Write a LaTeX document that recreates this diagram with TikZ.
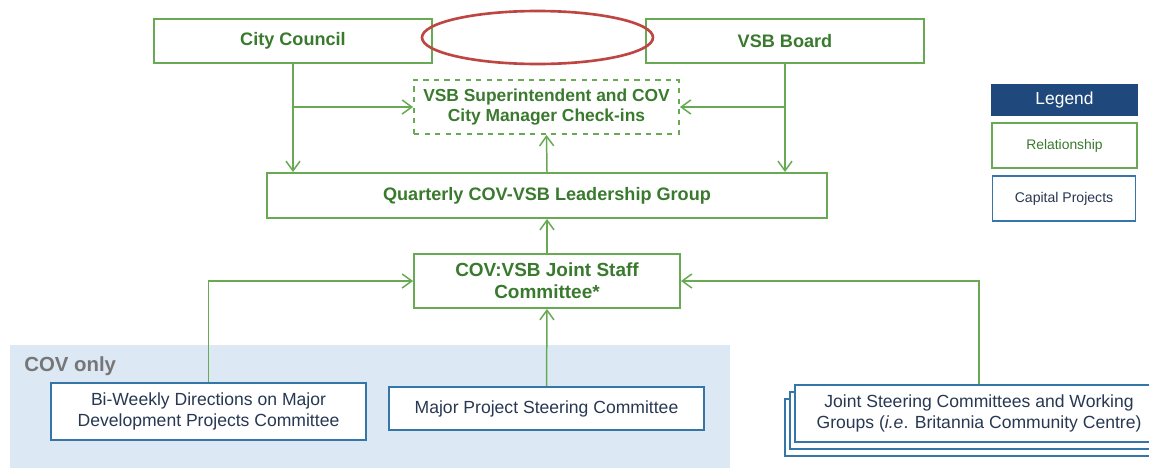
\documentclass[tikz,border=0pt]{standalone}
\usepackage{fontspec}
\setmainfont{Liberation Sans}
\usetikzlibrary{arrows.meta}

\definecolor{relgreen}{RGB}{104,170,84}
\definecolor{relgreentext}{RGB}{58,122,46}
\definecolor{capblue}{RGB}{52,118,168}
\definecolor{captext}{RGB}{40,56,82}
\definecolor{legendnavy}{RGB}{31,73,125}
\definecolor{covfill}{RGB}{221,232,245}
\definecolor{covgray}{RGB}{118,118,118}
\definecolor{markred}{RGB}{190,70,66}

\tikzset{
  relbox/.style={draw=relgreen, line width=1.1pt, fill=white, text=relgreentext,
    font=\fontsize{10.3}{11.8}\selectfont\bfseries, align=center, inner sep=0pt},
  capbox/.style={draw=capblue, line width=1.1pt, fill=white, text=captext,
    font=\fontsize{10}{11.8}\selectfont, align=center, inner sep=0pt},
  link/.style={draw=relgreen, line width=0.85pt},
  tip/.style={-{Straight Barb[length=5.5pt,width=8pt]}},
}

\begin{document}
\begin{tikzpicture}[x=0.02cm,y=-0.02cm]
  \useasboundingbox (0,0) rectangle (1149,467);
  \clip (0,0) rectangle (1149,467);

  % COV only area
  \fill[covfill] (10,345) rectangle (730,480);
  \node[text=covgray, font=\fontsize{11.6}{13}\selectfont\bfseries, anchor=west, inner sep=0pt] (covonly) at (24,366) {COV only};

  % top row
  \node[relbox, minimum width=5.56cm, minimum height=0.88cm] (council) at (293,41) {City Council};
  \node[relbox, minimum width=5.56cm, minimum height=0.88cm] (vsbboard) at (785,41) {VSB Board};
  \draw[markred, line width=1.5pt] (537.5,37.5) ellipse [x radius=115.5, y radius=26.5];

  \node[relbox, dashed, font=\fontsize{9.9}{11.6}\selectfont\bfseries, minimum width=5.3cm, minimum height=1.08cm] (checkin) at (546.5,107)
    {VSB Superintendent and COV\\City Manager Check-ins};
  \node[relbox, minimum width=11.2cm, minimum height=0.9cm] (leaders) at (547,195.5)
    {Quarterly COV-VSB Leadership Group};
  \node[relbox, font=\fontsize{10.8}{12.6}\selectfont\bfseries, minimum width=5.32cm, minimum height=1.08cm] (staff) at (547,281)
    {COV:VSB Joint Staff\\Committee*};

  % capital projects
  \node[capbox, minimum width=6.3cm, minimum height=1.14cm] (biweekly) at (208.5,411.5)
    {Bi-Weekly Directions on Major\\Development Projects Committee};
  \node[capbox, minimum width=6.3cm, minimum height=0.86cm] (steering) at (546.5,408.5)
    {Major Project Steering Committee};
  \node[capbox, minimum width=7.36cm, minimum height=1.14cm] (jointback) at (969,427.5) {};
  \node[capbox, minimum width=7.36cm, minimum height=1.14cm] (jointmid) at (974,420.5) {};
  \node[capbox, minimum width=7.36cm, minimum height=1.14cm] (joint) at (979,413.5)
    {Joint Steering Committees and Working\\Groups (\textit{i.e}. Britannia Community Centre)};

  % legend
  \node[fill=legendnavy, text=white, font=\fontsize{9.9}{11}\selectfont, minimum width=2.94cm, minimum height=0.64cm, inner sep=0pt] (legend) at (1064.5,100) {Legend};
  \node[relbox, font=\fontsize{7.9}{9}\selectfont, minimum width=2.9cm, minimum height=0.9cm] (legrel) at (1064.5,145.5) {Relationship};
  \node[capbox, font=\fontsize{8}{9}\selectfont, minimum width=2.86cm, minimum height=0.9cm] (legcap) at (1064,198.5) {Capital Projects};

  % relationships
  \draw[link,tip] (council.south) -- (council.south |- leaders.north);
  \draw[link,tip] (council.south |- checkin.west) -- (checkin.west);
  \draw[link,tip] (vsbboard.south) -- (vsbboard.south |- leaders.north);
  \draw[link,tip] (vsbboard.south |- checkin.east) -- (checkin.east);
  \draw[link,tip] (leaders.north) -- (checkin.south);
  \draw[link,tip] (staff.north) -- (leaders.south);
  \draw[link,tip] (steering.north) -- (staff.south);
  \draw[link,tip] (biweekly.north) |- (staff.west);
  \draw[link,tip] (joint.north) |- (staff.east);
\end{tikzpicture}
\end{document}
